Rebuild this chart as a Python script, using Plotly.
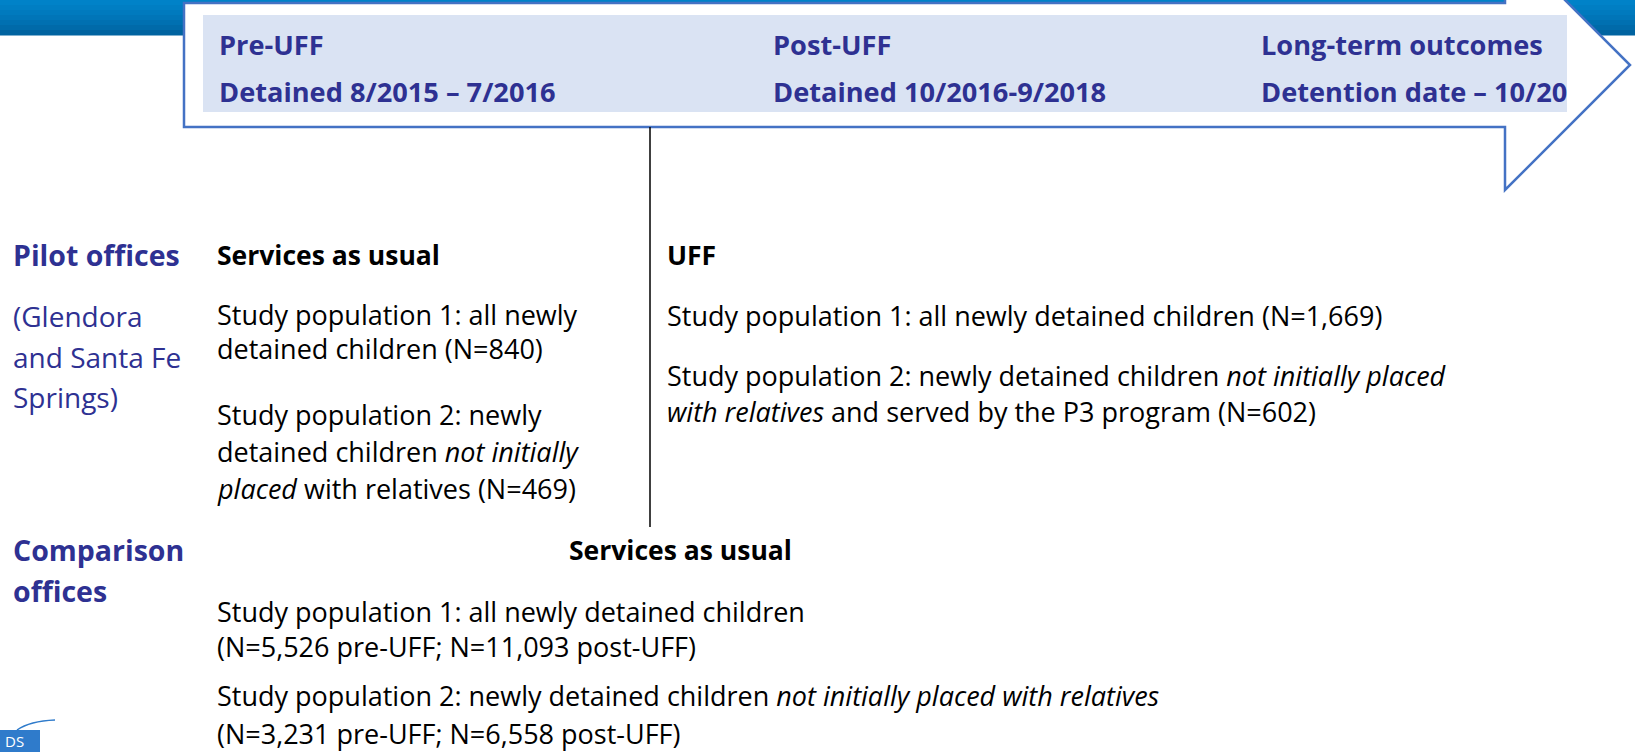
import plotly.graph_objects as go

W, H = 1635, 752

# ---- text content ----
header_titles = ["Pre-UFF", "Post-UFF", "Long-term outcomes"]
header_periods = ["Detained 8/2015 – 7/2016", "Detained 10/2016-9/2018", "Detention date – 10/20"]

row_titles = ["Pilot offices", "Comparison", "offices"]
pilot_sub = ["(Glendora", "and Santa Fe", "Springs)"]

col_heads = ["Services as usual", "UFF", "Services as usual"]

pre_pilot_lines = [
    "Study population 1: all newly",
    "detained children (N=840)",
    "Study population 2: newly",
    "detained children <i>not initially</i>",
    "<i>placed</i> with relatives (N=469)",
]
post_pilot_lines = [
    "Study population 1: all newly detained children (N=1,669)",
    "Study population 2: newly detained children <i>not initially placed</i>",
    "<i>with relatives</i> and served by the P3 program (N=602)",
]
comparison_lines = [
    "Study population 1: all newly detained children",
    "(N=5,526 pre-UFF; N=11,093 post-UFF)",
    "Study population 2: newly detained children <i>not initially placed with relatives</i>",
    "(N=3,231 pre-UFF; N=6,558 post-UFF)",
]

# ---- layout positions (pixels) ----
header_x = [217, 771, 1259]
header_y = [44, 91]
row_title_x = 11
row_title_y = [255, 550, 591]
pilot_sub_y = [316, 357, 397]
col_head_xy = [(215, 255, "left"), (665, 255, "left"), (680, 550, "center")]
pre_pilot_y = [314, 348, 414, 451, 488]
post_pilot_y = [315, 375, 411]
comparison_y = [629, 695, 733]

FONT = "Open Sans"
NAVY = "#2E3192"
BODY = 27
HEAD = 27.2
ROWT = 28.5
COLH = 26.5

fig = go.Figure()
fig.add_trace(go.Scatter(x=[0, W], y=[0, H], mode="markers", marker=dict(opacity=0), hoverinfo="skip", showlegend=False))

shapes = []
# gradient blue band at top
band_cols = ["#0082C8", "#007EC3", "#007ABE", "#0075B8", "#0070B1", "#006AA9", "#0063A0"]
n = len(band_cols)
bh = 35 / n
for i, c in enumerate(band_cols):
    shapes.append(dict(type="rect", x0=0, x1=W, y0=i * bh, y1=(i + 1) * bh + 0.5,
                       fillcolor=c, line=dict(width=0), layer="below"))

# arrow outline
arrow_path = "M 184 3 L 1505 3 L 1505 -60 L 1630 65 L 1505 190 L 1505 127 L 184 127 Z"
shapes.append(dict(type="path", path=arrow_path, fillcolor="white",
                   line=dict(color="#4472C4", width=2.5), layer="below"))
# inner light band
shapes.append(dict(type="rect", x0=203, x1=1567, y0=15, y1=112,
                   fillcolor="#DAE3F3", line=dict(width=0), layer="below"))
# vertical divider
shapes.append(dict(type="line", x0=650, x1=650, y0=127, y1=527,
                   line=dict(color="black", width=1.5)))
# logo fragment
shapes.append(dict(type="rect", x0=0, x1=40, y0=730, y1=752,
                   fillcolor="#2F7BCB", line=dict(width=0)))
shapes.append(dict(type="path", path="M 17 730 Q 30 721 55 720",
                   line=dict(color="#2F7BCB", width=1.5)))

annotations = []


def add_text(x, y, text, color="black", size=BODY, bold=False, anchor="left"):
    if bold:
        text = "<b>" + text + "</b>"
    annotations.append(dict(x=x, y=y, xref="x", yref="y", text=text, showarrow=False,
                            xanchor=anchor, yanchor="middle", align="left",
                            font=dict(family=FONT, size=size, color=color)))


for i, t in enumerate(header_titles):
    add_text(header_x[i], header_y[0], t, color=NAVY, size=HEAD, bold=True)
for i, t in enumerate(header_periods):
    add_text(header_x[i], header_y[1], t, color=NAVY, size=HEAD, bold=True)

for t, y in zip(row_titles, row_title_y):
    add_text(row_title_x, y, t, color=NAVY, size=ROWT, bold=True)
for t, y in zip(pilot_sub, pilot_sub_y):
    add_text(row_title_x, y, t, color=NAVY, size=28)

for t, (x, y, a) in zip(col_heads, col_head_xy):
    add_text(x, y, t, bold=True, anchor=a, size=COLH)

for t, y in zip(pre_pilot_lines, pre_pilot_y):
    add_text(215, y, t)
for t, y in zip(post_pilot_lines, post_pilot_y):
    add_text(665, y, t)

# comparison block: first two lines wrapped together
comp_texts = [comparison_lines[0] + "<br>" + comparison_lines[1]] + comparison_lines[2:]
for t, y in zip(comp_texts, comparison_y):
    add_text(215, y, t)

# logo letters
annotations.append(dict(x=3, y=741, xref="x", yref="y", text="DS", showarrow=False,
                        xanchor="left", yanchor="middle",
                        font=dict(family=FONT, size=15, color="white")))

fig.update_layout(
    width=W, height=H,
    margin=dict(l=0, r=0, t=0, b=0),
    paper_bgcolor="white", plot_bgcolor="white",
    xaxis=dict(range=[0, W], visible=False, fixedrange=True),
    yaxis=dict(range=[H, 0], visible=False, fixedrange=True),
    shapes=shapes, annotations=annotations, showlegend=False,
)

fig.write_html("out.html", config={"displayModeBar": False},
               post_script="document.body.style.margin='0';document.body.style.overflow='hidden';")
